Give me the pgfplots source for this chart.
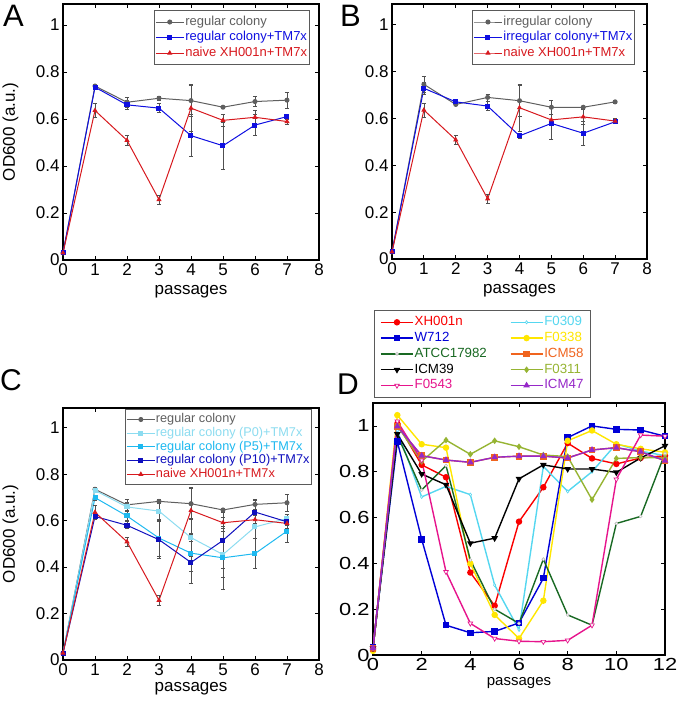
\documentclass[border=0pt]{standalone}
\usepackage{graphicx}
\usepackage{pgfplots}
\pgfplotsset{compat=1.18}
\usepackage{fontspec}
\setmainfont{Liberation Sans}
\definecolor{cgray}{RGB}{95,95,95}
\definecolor{cblue}{RGB}{15,15,225}
\definecolor{cred}{RGB}{215,25,30}
\definecolor{cP0}{RGB}{140,220,240}
\definecolor{cP5}{RGB}{30,185,240}
\definecolor{cP10}{RGB}{15,15,190}
\definecolor{dred}{RGB}{250,0,0}
\definecolor{dblue}{RGB}{0,0,215}
\definecolor{dgreen}{RGB}{25,105,35}
\definecolor{dpink}{RGB}{230,20,140}
\definecolor{dcyan}{RGB}{85,215,240}
\definecolor{dyellow}{RGB}{255,230,0}
\definecolor{dorange}{RGB}{240,100,30}
\definecolor{dolive}{RGB}{150,180,50}
\definecolor{dpurple}{RGB}{150,40,200}
\definecolor{legframe}{RGB}{90,90,90}
\definecolor{ebar}{RGB}{80,80,80}

\pgfplotsset{
  panel/.style={
    scale only axis,
    ymin=0, xmin=0,
    tick align=inside,
    major tick length=4pt,
    axis line style={line width=1.3pt},
    every tick/.style={black, line width=0.8pt},
    ytick={0,0.2,0.4,0.6,0.8,1},
    yticklabels={0,0.2,0.4,0.6,0.8,1},
    tick label style={font=\fontsize{17}{17}\selectfont},
    label style={font=\fontsize{17}{17}\selectfont},
    /pgf/number format/assume math mode=true,
    xlabel={passages},
    legend cell align=left,
    legend style={draw=legframe, line width=0.8pt, fill=white,
      font=\fontsize{13}{13}\selectfont, inner xsep=1pt, inner ysep=4pt, row sep=0pt,
      nodes={inner sep=1pt, text height=10pt, text depth=3.5pt},
      anchor=north west},
    legend image code/.code={\draw[mark repeat=2,mark phase=2,#1] plot coordinates {(0pt,0pt) (14pt,0pt) (28pt,0pt)};},
  },
  eb/.style={error bars/.cd, y dir=both, y explicit,
    error bar style={line width=0.7pt, ebar},
    error mark options={rotate=90, mark size=2pt, line width=0.7pt, ebar}},
  sA/.style={line width=1pt, mark size=2pt, mark options={solid}},
}

\begin{document}
\begin{tikzpicture}[x=1pt,y=1pt]
\path[use as bounding box] (0,0) rectangle (677,706);

% ---------------- A ----------------
\begin{axis}[panel, at={(63pt,446pt)}, anchor=south west, width=256pt, height=256pt,
  xmax=8, ymax=1.089, xtick={0,...,8},
  xlabel style={at={(axis description cs:0.5,-0.125)},anchor=center},
  ylabel={OD600 (a.u.)}, ylabel style={at={(axis description cs:-0.205,0.5)},anchor=center},
  legend style={at={(axis description cs:0.355,0.977)}}]
\addplot[cgray, sA, mark=*, eb] table[x=x,y=y,y error=e] {
x y e
0 0.03 0
1 0.740 0.008
2 0.671 0.022
3 0.688 0.007
4 0.678 0.065
5 0.650 0.005
6 0.674 0.020
7 0.680 0.035
};
\addlegendentry{\textcolor{cgray}{regular colony}}
\addplot[cblue, sA, mark=square*, eb] table[x=x,y=y,y error=e] {
x y e
0 0.03 0
1 0.735 0.010
2 0.660 0.020
3 0.646 0.020
4 0.529 0.090
5 0.486 0.100
6 0.574 0.045
7 0.610 0.005
};
\addlegendentry{\textcolor{cblue}{regular colony+TM7x}}
\addplot[cred, sA, mark=triangle*, eb] table[x=x,y=y,y error=e] {
x y e
0 0.03 0
1 0.636 0.030
2 0.509 0.020
3 0.257 0.020
4 0.646 0.100
5 0.594 0.025
6 0.607 0.030
7 0.589 0.010
};
\addlegendentry{\textcolor{cred}{naive XH001n+TM7x}}
\end{axis}

% ---------------- B ----------------
\begin{axis}[panel, at={(392pt,447pt)}, anchor=south west, width=255pt, height=255pt,
  xmax=8, ymax=1.089, xtick={0,...,8},
  xlabel style={at={(axis description cs:0.5,-0.125)},anchor=center},
  legend style={at={(axis description cs:0.314,0.977)}}]
\addplot[cgray, sA, mark=*, eb] table[x=x,y=y,y error=e] {
x y e
0 0.03 0
1 0.746 0.035
2 0.660 0.005
3 0.690 0.015
4 0.676 0.065
5 0.648 0.030
6 0.648 0.005
7 0.671 0.005
};
\addlegendentry{\textcolor{cgray}{irregular colony}}
\addplot[cblue, sA, mark=square*, eb] table[x=x,y=y,y error=e] {
x y e
0 0.03 0
1 0.729 0.025
2 0.671 0.010
3 0.653 0.020
4 0.526 0.010
5 0.579 0.070
6 0.537 0.050
7 0.586 0.005
};
\addlegendentry{\textcolor{cblue}{irregular colony+TM7x}}
\addplot[cred, sA, mark=triangle*, eb] table[x=x,y=y,y error=e] {
x y e
0 0.03 0
1 0.636 0.030
2 0.509 0.020
3 0.257 0.020
4 0.646 0.100
5 0.594 0.025
6 0.607 0.030
7 0.589 0.010
};
\addlegendentry{\textcolor{cred}{naive XH001n+TM7x}}
\end{axis}

% ---------------- C ----------------
\begin{axis}[panel, at={(63pt,46pt)}, anchor=south west, width=256pt, height=252pt,
  xmax=8, ymax=1.085, xtick={0,...,8},
  xlabel style={at={(axis description cs:0.5,-0.115)},anchor=center},
  ylabel={OD600 (a.u.)}, ylabel style={at={(axis description cs:-0.205,0.5)},anchor=center},
  legend style={at={(axis description cs:0.242,0.995)}, inner ysep=3pt,
     font=\fontsize{12.7}{13}\selectfont,
     nodes={inner sep=0.6pt, text height=9.5pt, text depth=3pt}}]
\addplot[cgray, sA, mark=*, eb] table[x=x,y=y,y error=e] {
x y e
0 0.03 0
1 0.735 0.008
2 0.668 0.022
3 0.683 0.007
4 0.673 0.065
5 0.646 0.005
6 0.670 0.020
7 0.677 0.035
};
\addlegendentry{\textcolor{cgray}{regular colony}}
\addplot[cP0, sA, mark=square*, eb] table[x=x,y=y,y error=e] {
x y e
0 0.03 0
1 0.730 0.010
2 0.659 0.020
3 0.641 0.040
4 0.527 0.080
5 0.454 0.100
6 0.573 0.050
7 0.609 0.010
};
\addlegendentry{\textcolor{cP0}{regular colony (P0)+TM7x}}
\addplot[cP5, sA, mark=square*, eb] table[x=x,y=y,y error=e] {
x y e
0 0.03 0
1 0.699 0.010
2 0.620 0.020
3 0.525 0.080
4 0.460 0.080
5 0.440 0.135
6 0.458 0.065
7 0.555 0.047
};
\addlegendentry{\textcolor{cP5}{regular colony (P5)+TM7x}}
\addplot[cP10, sA, mark=square*, eb] table[x=x,y=y,y error=e] {
x y e
0 0.03 0
1 0.618 0.010
2 0.580 0.015
3 0.518 0.080
4 0.420 0.090
5 0.515 0.120
6 0.637 0.050
7 0.595 0.030
};
\addlegendentry{\textcolor{cP10}{regular colony (P10)+TM7x}}
\addplot[cred, sA, mark=triangle*, eb] table[x=x,y=y,y error=e] {
x y e
0 0.03 0
1 0.636 0.030
2 0.509 0.020
3 0.257 0.020
4 0.644 0.100
5 0.591 0.025
6 0.604 0.030
7 0.588 0.010
};
\addlegendentry{\textcolor{cred}{naive XH001n+TM7x}}
\end{axis}

% ---------------- D ----------------
\begin{axis}[panel, at={(373pt,51pt)}, anchor=south west, width=292pt, height=252pt,
  xmax=12, ymax=1.1, xtick={0,2,...,12},
  xticklabel={\scalebox{1.25}[1]{\pgfmathprintnumber{\tick}}},
  yticklabels={\scalebox{1.25}[1]{0},\scalebox{1.25}[1]{0.2},\scalebox{1.25}[1]{0.4},\scalebox{1.25}[1]{0.6},\scalebox{1.25}[1]{0.8},\scalebox{1.25}[1]{1}},
  tick label style={font=\fontsize{17.5}{17.5}\selectfont},
  xlabel style={at={(axis description cs:0.5,-0.111)},anchor=center, font=\fontsize{15}{15}\selectfont},
  legend columns=2,
  legend style={at={(axis description cs:0.003,1.369)}, font=\fontsize{13.3}{14}\selectfont,
     inner xsep=6pt, inner ysep=4pt,
     nodes={inner sep=1pt, text height=10.2pt, text depth=3.6pt},
     /tikz/every even column/.append style={column sep=22pt}},
  legend image code/.code={\draw[mark repeat=2,mark phase=2,#1] plot coordinates {(0pt,0pt) (16pt,0pt) (32pt,0pt)};},
  every axis plot/.append style={line width=1.4pt, mark size=2.5pt, mark options={solid}}]
\addplot[dred, mark=*] table {
0 0.03
1 1.01
2 0.83
3 0.776
4 0.36
5 0.215
6 0.582
7 0.732
8 0.925
9 0.858
10 0.834
11 0.86
12 0.87
};
\addlegendentry{\textcolor{dred}{XH001n}}
\addplot[dcyan, mark=diamond*, mark size=1.6pt, mark options={fill=white, draw=dcyan, line width=0.6pt}] table {
0 0.03
1 0.98
2 0.69
3 0.736
4 0.70
5 0.305
6 0.11
7 0.823
8 0.714
9 0.80
10 0.922
11 0.89
12 0.87
};
\addlegendentry{\textcolor{dcyan}{F0309}}
\addplot[dblue, mark=square*] table {
0 0.036
1 0.932
2 0.505
3 0.13
4 0.097
5 0.103
6 0.14
7 0.335
8 0.949
9 1.0
10 0.985
11 0.982
12 0.955
};
\addlegendentry{\textcolor{dblue}{W712}}
\addplot[dyellow, mark=*] table {
0 0.018
1 1.047
2 0.92
3 0.905
4 0.399
5 0.175
6 0.072
7 0.237
8 0.935
9 0.98
10 0.92
11 0.90
12 0.885
};
\addlegendentry{\textcolor{dyellow}{F0338}}
\addplot[dgreen, mark=*, mark size=1.5pt, mark options={fill=white, draw=lightgray, line width=0.6pt}] table {
0 0.03
1 0.96
2 0.72
3 0.827
4 0.415
5 0.2
6 0.138
7 0.418
8 0.175
9 0.13
10 0.574
11 0.605
12 0.88
};
\addlegendentry{\textcolor{dgreen}{ATCC17982}}
\addplot[dorange, mark=square*, mark size=2.7pt] table {
0 0.03
1 0.998
2 0.87
3 0.851
4 0.841
5 0.863
6 0.868
7 0.868
8 0.86
9 0.895
10 0.905
11 0.887
12 0.848
};
\addlegendentry{\textcolor{dorange}{ICM58}}
\addplot[black, mark=triangle*, mark options={rotate=180}] table {
0 0.03
1 0.964
2 0.79
3 0.743
4 0.488
5 0.51
6 0.769
7 0.83
8 0.812
9 0.812
10 0.797
11 0.86
12 0.913
};
\addlegendentry{\textcolor{black}{ICM39}}
\addplot[dolive, mark=diamond*, mark size=2.2pt] table {
0 0.03
1 1.0
2 0.845
3 0.938
4 0.876
5 0.935
6 0.909
7 0.873
8 0.866
9 0.678
10 0.858
11 0.862
12 0.86
};
\addlegendentry{\textcolor{dolive}{F0311}}
\addplot[dpink, mark=triangle*, mark size=2.7pt, mark options={rotate=180, fill=white, draw=dpink, line width=0.7pt}] table {
0 0.03
1 1.02
2 0.85
3 0.363
4 0.138
5 0.072
6 0.06
7 0.058
8 0.064
9 0.13
10 0.767
11 0.96
12 0.955
};
\addlegendentry{\textcolor{dpink}{F0543}}
\addplot[dpurple, mark=triangle*] table {
0 0.03
1 0.998
2 0.87
3 0.851
4 0.841
5 0.863
6 0.868
7 0.868
8 0.86
9 0.895
10 0.905
11 0.887
12 0.848
};
\addlegendentry{\textcolor{dpurple}{ICM47}}
\end{axis}

% panel letters
\node[anchor=base west, inner sep=0pt, font=\fontsize{31}{31}\selectfont] at (3,679) {A};
\node[anchor=base west, inner sep=0pt, font=\fontsize{31}{31}\selectfont] at (340,679) {B};
\node[anchor=base west, inner sep=0pt, font=\fontsize{30}{30}\selectfont] at (0,315) {C};
\node[anchor=base west, inner sep=0pt, font=\fontsize{30}{30}\selectfont] at (337,311) {D};
\end{tikzpicture}
\end{document}
